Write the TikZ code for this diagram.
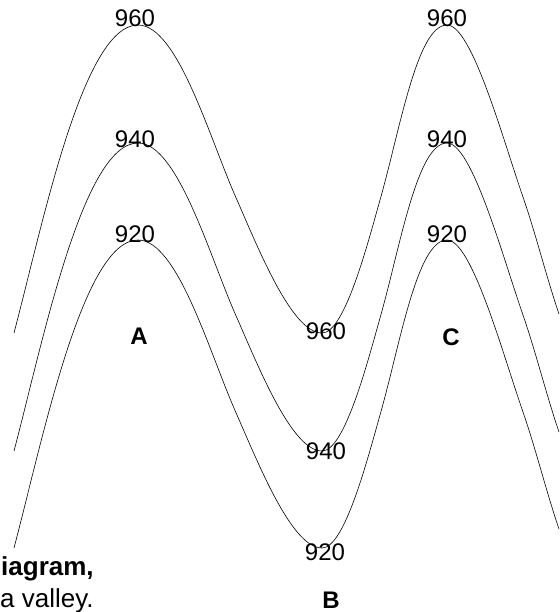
\documentclass[tikz,border=0pt]{standalone}
\usepackage{fontspec}
\setmainfont{Liberation Sans}
\begin{document}
\begin{tikzpicture}[x=1pt,y=-1pt,
  contour/.style={line width=0.6pt, black},
  lab/.style={inner sep=0pt, font=\fontsize{24}{28}\selectfont},
  peak/.style={inner sep=0pt, font=\fontsize{24}{28}\selectfont\bfseries},
  capline/.style={inner sep=0pt, anchor=base west, font=\fontsize{26}{31}\selectfont}]
\useasboundingbox (0,0) rectangle (559,612);
% contours 960, 940, 920 (same profile, shifted down)
\foreach \dy in {0,118,215}{
  \draw[contour, shift={(0,\dy)}]
    (14,333) .. controls (43,223) and (83,25) .. (138,25)
    .. controls (178,25) and (210,140) .. (237,200)
    .. controls (259,250) and (292,333) .. (322,333)
    .. controls (344,333) and (366,250) .. (380,200)
    .. controls (400,130) and (417,25) .. (447,25)
    .. controls (472,25) and (503,140) .. (524,200)
    .. controls (536,235) and (547,279) .. (559,314);
}
% contour labels
\node[lab] (a960) at (135,18) {960};
\node[lab] (a940) at (135,139) {940};
\node[lab] (a920) at (135,234) {920};
\node[lab] (c960) at (447,18) {960};
\node[lab] (c940) at (447,139) {940};
\node[lab] (c920) at (447,234) {920};
\node[lab] (b960) at (326,331) {960};
\node[lab] (b940) at (326,451) {940};
\node[lab] (b920) at (325,552) {920};
% point labels
\node[peak] (A) at (139,336) {A};
\node[peak] (C) at (451,337) {C};
\node[peak] (B) at (331,600) {B};
% caption fragments
\node[capline, font=\fontsize{26}{31}\selectfont\bfseries] (cap1) at (1,575) {iagram,};
\node[capline] (cap2) at (0,607) {a valley.};
\end{tikzpicture}
\end{document}
